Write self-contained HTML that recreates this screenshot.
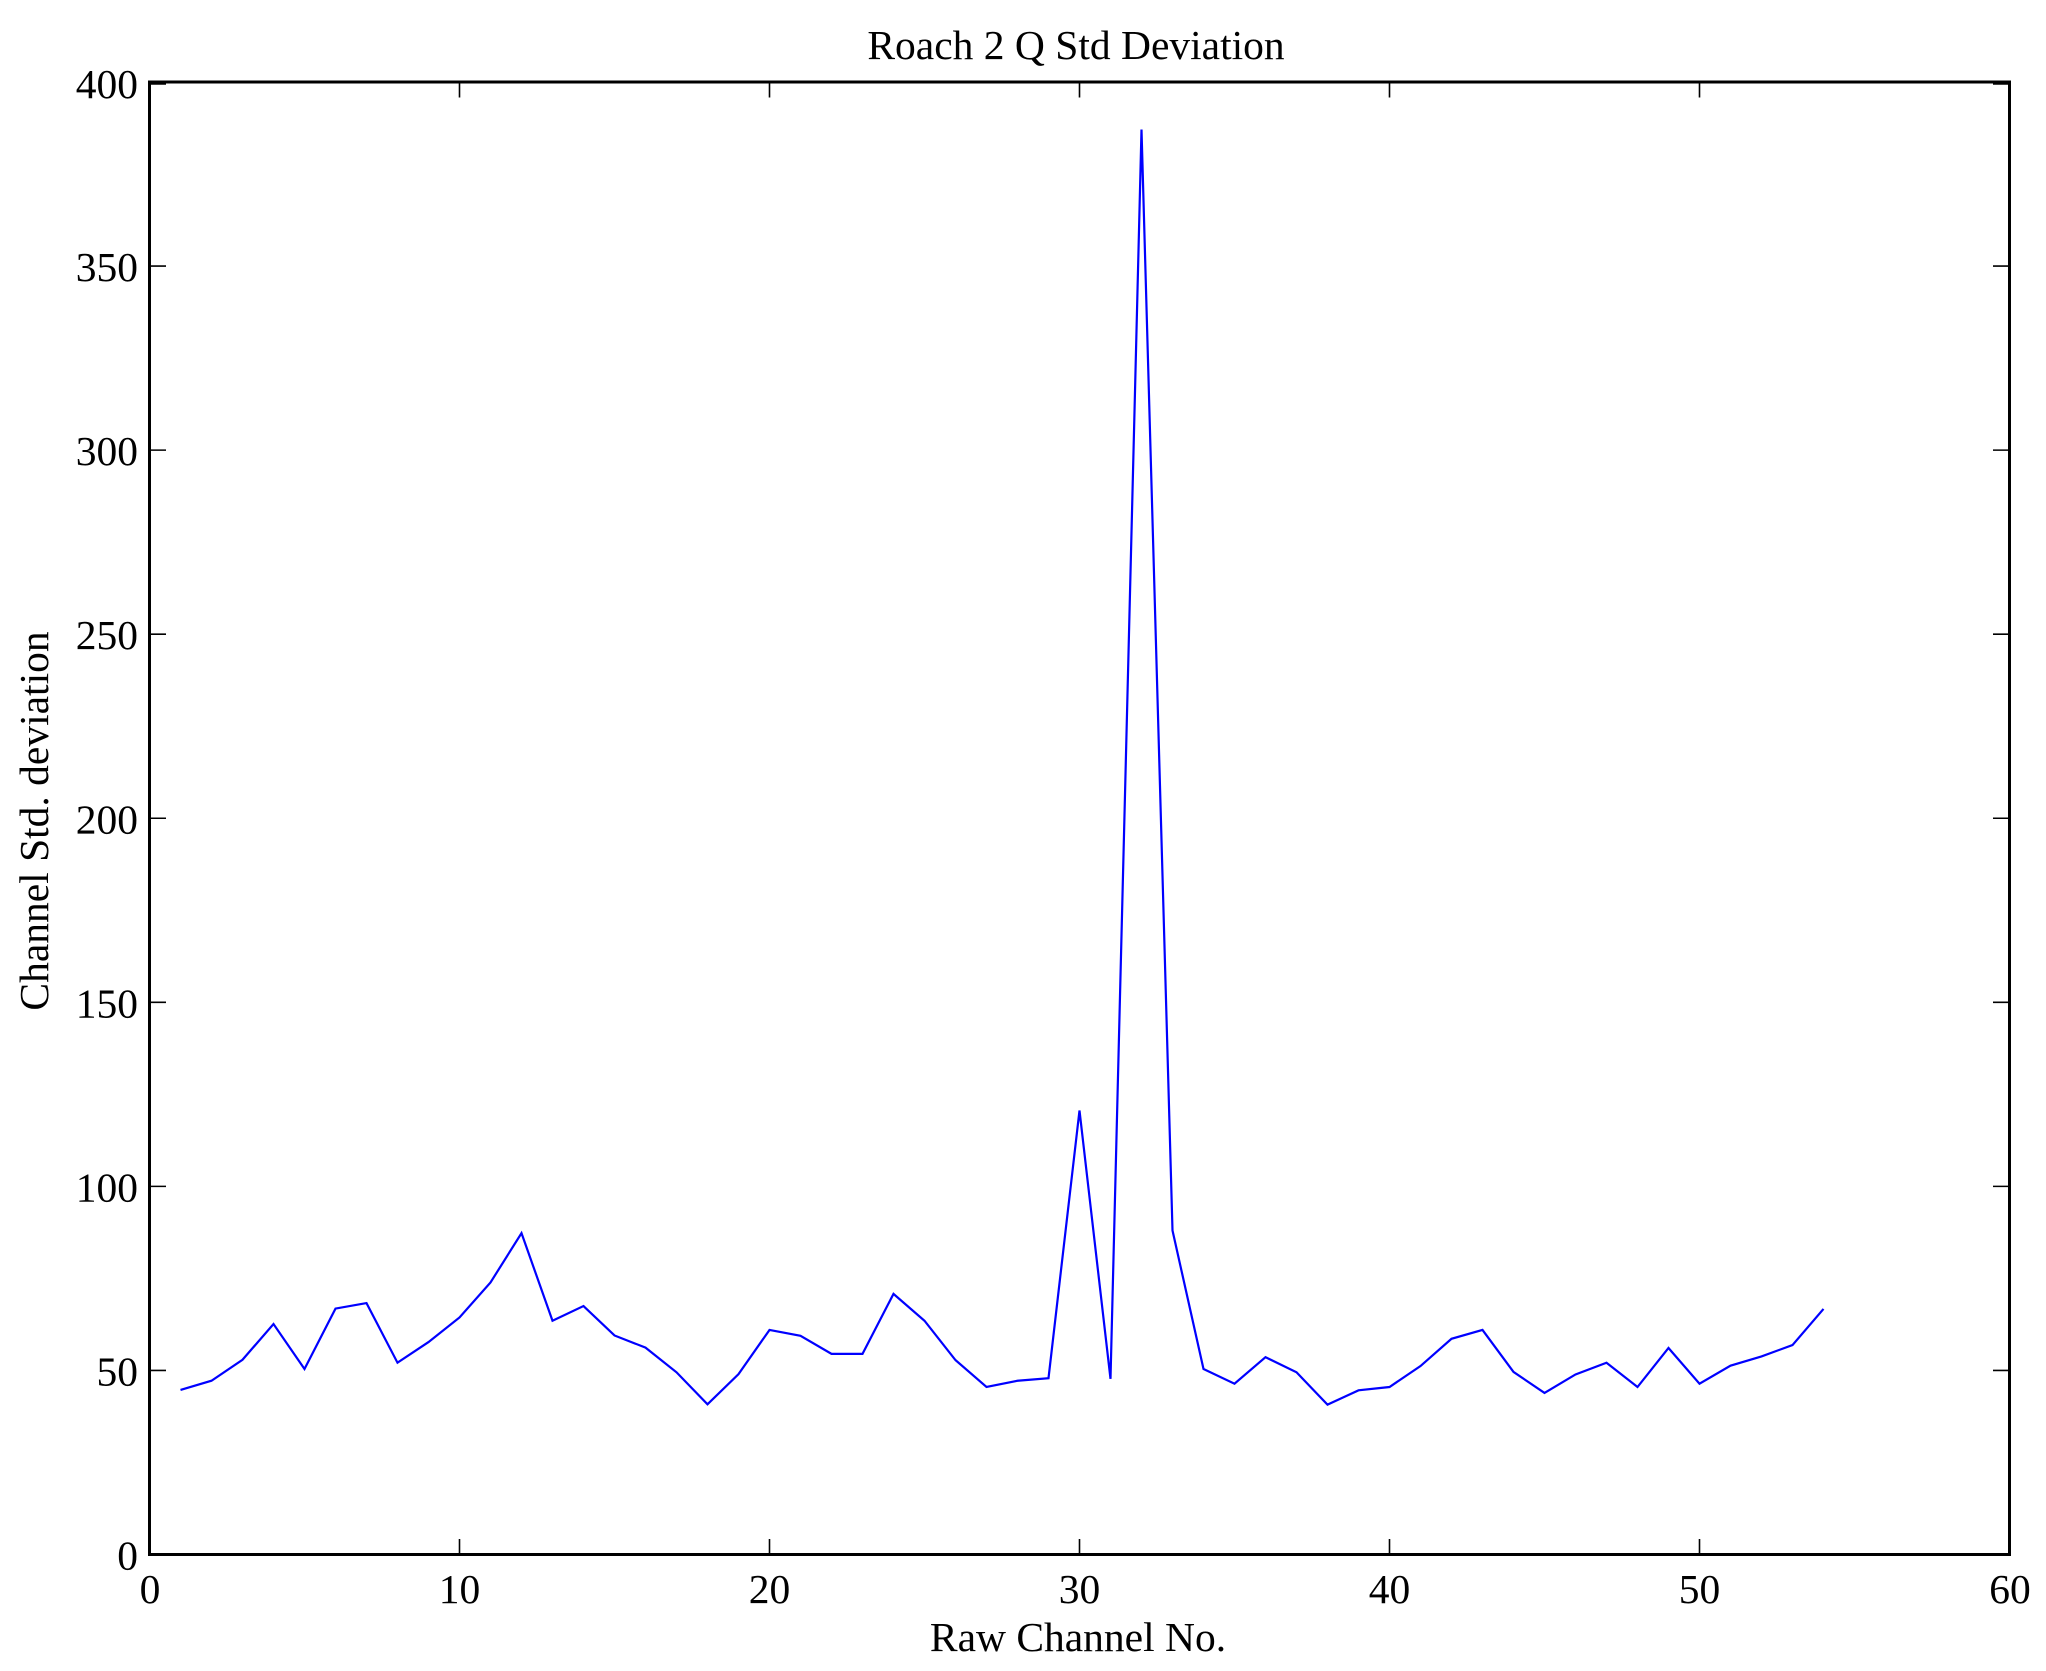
<!DOCTYPE html>
<html>
<head>
<meta charset="utf-8">
<style>
html,body{margin:0;padding:0;background:#fff;}
svg{display:block;}
text{font-family:"Liberation Serif","DejaVu Serif",serif;font-size:41.5px;fill:#000;}
</style>
</head>
<body>
<svg width="2046" height="1671" viewBox="0 0 2046 1671" xmlns="http://www.w3.org/2000/svg">
<rect x="0" y="0" width="2046" height="1671" fill="#fff"/>

<!-- data line -->
<polyline fill="none" stroke="#0000ff" stroke-width="2.2" stroke-linejoin="miter" points="
180.5,1389.95 211.5,1380.74 242.5,1359.76 273.5,1324.05 304.5,1368.96 335.5,1308.59 366.5,1303.07 397.5,1362.71 428.5,1342.09 459.5,1317.43
490.5,1282.46 521.5,1233.13 552.5,1320.74 583.5,1306.02 614.5,1335.47 645.5,1347.61 676.5,1372.28 707.5,1404.30 738.5,1374.12 769.5,1329.94
800.5,1335.83 831.5,1353.87 862.5,1353.87 893.5,1293.87 924.5,1320.74 955.5,1360.13 986.5,1387.00 1017.5,1380.74 1048.5,1378.17 1079.5,1110.54
1110.5,1378.90 1141.5,129.49 1172.5,1230.55 1203.5,1368.96 1234.5,1383.69 1265.5,1357.18 1296.5,1372.28 1327.5,1404.67 1358.5,1390.32 1389.5,1387.00
1420.5,1366.02 1451.5,1338.78 1482.5,1329.94 1513.5,1371.91 1544.5,1392.89 1575.5,1374.49 1606.5,1362.71 1637.5,1387.00 1668.5,1347.98 1699.5,1383.69
1730.5,1365.65 1761.5,1356.45 1792.5,1345.04 1823.5,1308.96"/>

<!-- ticks -->
<g stroke="#000" stroke-width="1.6">
  <!-- x ticks bottom & top -->
  <line x1="459.5" y1="1554.5" x2="459.5" y2="1539"/><line x1="459.5" y1="82" x2="459.5" y2="97.5"/>
  <line x1="769.5" y1="1554.5" x2="769.5" y2="1539"/><line x1="769.5" y1="82" x2="769.5" y2="97.5"/>
  <line x1="1079.5" y1="1554.5" x2="1079.5" y2="1539"/><line x1="1079.5" y1="82" x2="1079.5" y2="97.5"/>
  <line x1="1389.5" y1="1554.5" x2="1389.5" y2="1539"/><line x1="1389.5" y1="82" x2="1389.5" y2="97.5"/>
  <line x1="1699.5" y1="1554.5" x2="1699.5" y2="1539"/><line x1="1699.5" y1="82" x2="1699.5" y2="97.5"/>
  <!-- y ticks left & right -->
  <line x1="149.5" y1="1370.44" x2="166" y2="1370.44"/><line x1="2009.5" y1="1370.44" x2="1993" y2="1370.44"/>
  <line x1="149.5" y1="1186.38" x2="166" y2="1186.38"/><line x1="2009.5" y1="1186.38" x2="1993" y2="1186.38"/>
  <line x1="149.5" y1="1002.31" x2="166" y2="1002.31"/><line x1="2009.5" y1="1002.31" x2="1993" y2="1002.31"/>
  <line x1="149.5" y1="818.25" x2="166" y2="818.25"/><line x1="2009.5" y1="818.25" x2="1993" y2="818.25"/>
  <line x1="149.5" y1="634.19" x2="166" y2="634.19"/><line x1="2009.5" y1="634.19" x2="1993" y2="634.19"/>
  <line x1="149.5" y1="450.13" x2="166" y2="450.13"/><line x1="2009.5" y1="450.13" x2="1993" y2="450.13"/>
  <line x1="149.5" y1="266.06" x2="166" y2="266.06"/><line x1="2009.5" y1="266.06" x2="1993" y2="266.06"/>
  <line x1="149.5" y1="84" x2="166" y2="84"/><line x1="2009.5" y1="84" x2="1993" y2="84"/>
</g>

<!-- axes frame -->
<rect x="149.5" y="82" width="1860" height="1472.5" fill="none" stroke="#000" stroke-width="3"/>

<!-- y tick labels -->
<g text-anchor="end">
  <text x="138" y="1569.5">0</text>
  <text x="138" y="1385.4">50</text>
  <text x="138" y="1201.4">100</text>
  <text x="138" y="1017.3">150</text>
  <text x="138" y="833.3">200</text>
  <text x="138" y="649.2">250</text>
  <text x="138" y="465.1">300</text>
  <text x="138" y="281.1">350</text>
  <text x="138" y="98">400</text>
</g>

<!-- x tick labels -->
<g text-anchor="middle">
  <text x="150" y="1603">0</text>
  <text x="459.5" y="1603">10</text>
  <text x="769.5" y="1603">20</text>
  <text x="1079.5" y="1603">30</text>
  <text x="1389.5" y="1603">40</text>
  <text x="1699.5" y="1603">50</text>
  <text x="2010" y="1603">60</text>
</g>

<!-- title and axis labels -->
<text x="1076" y="59" text-anchor="middle">Roach 2 Q Std Deviation</text>
<text x="1078" y="1651" text-anchor="middle">Raw Channel No.</text>
<text x="0" y="0" text-anchor="middle" transform="translate(48,821) rotate(-90)">Channel Std. deviation</text>
</svg>
</body>
</html>
